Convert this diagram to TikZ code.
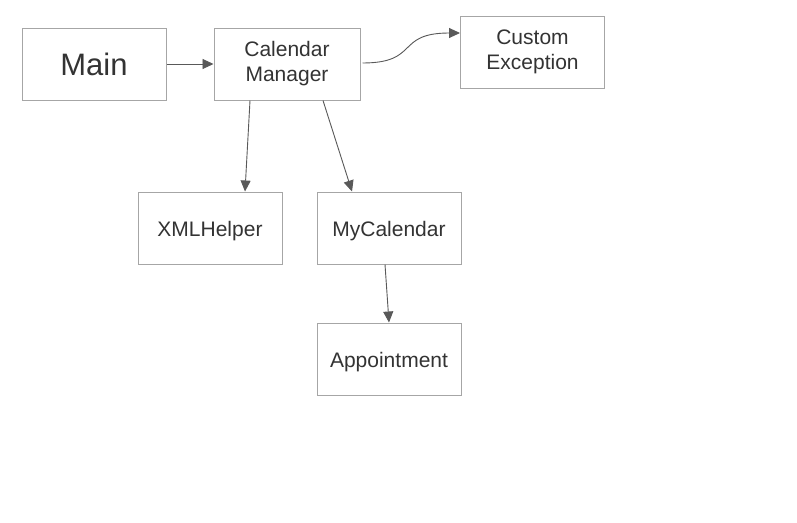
\documentclass[tikz,border=0pt]{standalone}
\usepackage{fontspec}
\setmainfont{Liberation Sans}
\usetikzlibrary{arrows.meta}
\definecolor{boxgray}{HTML}{A6A6A6}
\definecolor{arrgray}{HTML}{595959}
\definecolor{txtgray}{HTML}{333333}

\begin{document}
\begin{tikzpicture}[x=1pt,y=-1pt,
  cls/.style={draw=boxgray,line width=1pt,fill=white,minimum width=144pt,minimum height=72pt,
    inner sep=0pt,align=center,text=txtgray,font=\fontsize{21}{25}\selectfont},
  one/.style={text height=20pt,text depth=4pt},
  dep/.style={draw=arrgray,line width=0.9pt,-{Triangle[length=11pt,width=10pt]}}]
\useasboundingbox[fill=white] (0,0) rectangle (797,522);
\node[cls,font=\fontsize{31}{34}\selectfont,text height=26pt,text depth=4pt] (main) at (94,64) {Main};
\node[cls,minimum width=146pt] (mgr) at (287,64) {Calendar\\Manager};
\node[cls] (exc) at (532.5,52) {Custom\\Exception};
\foreach \n/\x/\y/\lab in {xml/210/228/XMLHelper,cal/389/228/MyCalendar,app/389/359/Appointment}
  {\node[cls,one] (\n) at (\x,\y) {\lab};}
% uses
\draw[dep] (main.east) -- (mgr.west);
\draw[dep] ([xshift=-37pt]mgr.south) -- ([xshift=35pt]xml.north);
\draw[dep] ([xshift=36pt]mgr.south) -- ([xshift=-37pt]cal.north);
\draw[dep] ([xshift=-4pt]cal.south) -- (app.north);
\draw[dep] ([xshift=2pt,yshift=1pt]mgr.east) .. controls (420,63) and (395,33) .. ([yshift=19pt]exc.west);
\end{tikzpicture}
\end{document}
